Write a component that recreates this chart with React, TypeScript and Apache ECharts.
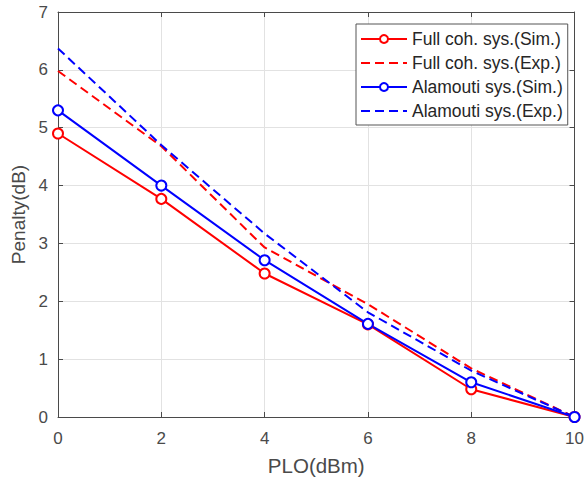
import React, { useEffect, useRef } from "react";
import * as echarts from "echarts";

const xValues = [0, 2, 4, 6, 8, 10];
const fullSim = [4.9, 3.77, 2.48, 1.6, 0.48, 0.0];
const fullExp = [5.98, 4.68, 2.93, 1.95, 0.84, 0.0];
const alaSim = [5.3, 4.0, 2.71, 1.61, 0.6, 0.0];
const alaExp = [6.37, 4.7, 3.17, 1.81, 0.8, 0.0];
const seriesNames = [
  "Full coh. sys.(Sim.)",
  "Full coh. sys.(Exp.)",
  "Alamouti sys.(Sim.)",
  "Alamouti sys.(Exp.)",
];

const FONT = "'Liberation Sans', Arial, Helvetica, sans-serif";
const AXIS_COLOR = "#4a4a4a";
const TEXT_COLOR = "#4a4a4a";
const GRID_COLOR = "#e2e2e2";

function pairs(vals: number[]) {
  return xValues.map((x, i) => [x, vals[i]]);
}

export default function App() {
  const ref = useRef<HTMLDivElement>(null);
  useEffect(() => {
    if (!ref.current) return;
    const chart = echarts.init(ref.current, undefined, { renderer: "svg" });
    const simSeries = (name: string, vals: number[], color: string) => ({
      name,
      type: "line",
      data: pairs(vals),
      symbol: "emptyCircle",
      symbolSize: 10,
      lineStyle: { color, width: 2, type: "solid" },
      itemStyle: { color, borderColor: color, borderWidth: 2 },
      z: 3,
    });
    const expSeries = (name: string, vals: number[], color: string) => ({
      name,
      type: "line",
      data: pairs(vals),
      symbol: "none",
      lineStyle: { color, width: 2, type: [9, 5] },
      itemStyle: { color },
      z: 3,
    });
    chart.setOption({
      animation: false,
      textStyle: { fontFamily: FONT },
      grid: { left: 58, right: 8.5, top: 12, bottom: 63, containLabel: false },
      xAxis: [
        {
          type: "value",
          min: 0,
          max: 10,
          interval: 2,
          position: "bottom",
          name: "PLO(dBm)",
          nameLocation: "middle",
          nameGap: 38,
          nameTextStyle: { fontSize: 20.5, color: TEXT_COLOR, fontFamily: FONT },
          axisLine: { show: true, lineStyle: { color: AXIS_COLOR, width: 1 } },
          axisTick: { show: true, inside: true, length: 5, lineStyle: { color: AXIS_COLOR } },
          axisLabel: { fontSize: 17, color: TEXT_COLOR, margin: 13, fontFamily: FONT },
          splitLine: { show: true, lineStyle: { color: GRID_COLOR, width: 1 } },
        },
        {
          type: "value",
          min: 0,
          max: 10,
          interval: 2,
          position: "top",
          axisLine: { show: true, onZero: false, lineStyle: { color: AXIS_COLOR, width: 1 } },
          axisTick: { show: true, inside: true, length: 5, lineStyle: { color: AXIS_COLOR } },
          axisLabel: { show: false },
          splitLine: { show: false },
        },
      ],
      yAxis: [
        {
          type: "value",
          min: 0,
          max: 7,
          interval: 1,
          position: "left",
          name: "Penalty(dB)",
          nameLocation: "middle",
          nameGap: 24,
          nameRotate: 90,
          nameTextStyle: { fontSize: 19, color: TEXT_COLOR, fontFamily: FONT },
          axisLine: { show: true, lineStyle: { color: AXIS_COLOR, width: 1 } },
          axisTick: { show: true, inside: true, length: 5, lineStyle: { color: AXIS_COLOR } },
          axisLabel: { fontSize: 17, color: TEXT_COLOR, margin: 10, fontFamily: FONT },
          splitLine: { show: true, lineStyle: { color: GRID_COLOR, width: 1 } },
        },
        {
          type: "value",
          min: 0,
          max: 7,
          interval: 1,
          position: "right",
          axisLine: { show: true, onZero: false, lineStyle: { color: AXIS_COLOR, width: 1 } },
          axisTick: { show: true, inside: true, length: 5, lineStyle: { color: AXIS_COLOR } },
          axisLabel: { show: false },
          splitLine: { show: false },
        },
      ],
      legend: {
        orient: "vertical",
        left: 356,
        top: 24,
        itemWidth: 46,
        itemHeight: 10,
        itemGap: 6,
        padding: [6, 5, 5, 4],
        backgroundColor: "#ffffff",
        borderColor: "#555555",
        borderWidth: 1,
        borderRadius: 0,
        textStyle: { fontSize: 17.5, lineHeight: 16, color: "#262626", fontFamily: FONT },
        data: [
          { name: seriesNames[0] },
          { name: seriesNames[1], itemStyle: { opacity: 0 } },
          { name: seriesNames[2] },
          { name: seriesNames[3], itemStyle: { opacity: 0 } },
        ],
      },
      series: [
        simSeries(seriesNames[0], fullSim, "#ff0000"),
        expSeries(seriesNames[1], fullExp, "#ff0000"),
        simSeries(seriesNames[2], alaSim, "#0000ff"),
        expSeries(seriesNames[3], alaExp, "#0000ff"),
      ],
    });
    return () => chart.dispose();
  }, []);
  return <div ref={ref} style={{ width: 587, height: 481, position: "absolute", left: 0, top: 0, background: "#fff" }} />;
}
